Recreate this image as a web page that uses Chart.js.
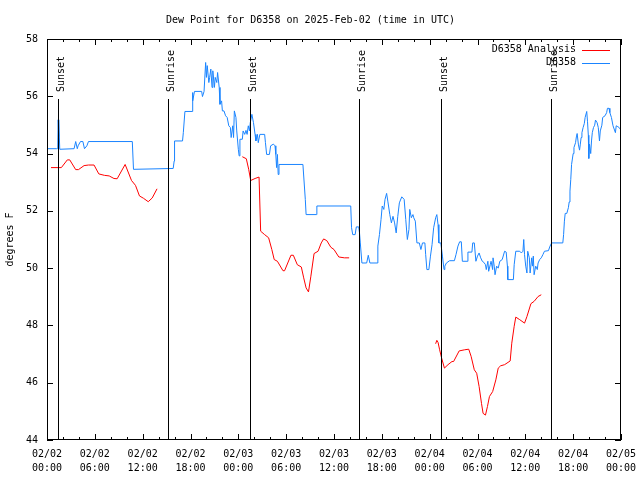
<!DOCTYPE html>
<html>
<head>
<meta charset="utf-8">
<title>Dew Point for D6358</title>
<script src="https://cdn.jsdelivr.net/npm/chart.js@4.4.1/dist/chart.umd.min.js"></script>
<style>
  html, body { margin: 0; padding: 0; background: #fff; }
  canvas { display: block; }
</style>
</head>
<body>
<canvas id="dewChart" width="640" height="480"></canvas>
<script>
// x values are hours since 2025-02-02 00:00 UTC
const tickDates = ["02/02", "02/02", "02/02", "02/02", "02/03", "02/03", "02/03", "02/03", "02/04", "02/04", "02/04", "02/04", "02/05"];
const tickTimes = ["00:00", "06:00", "12:00", "18:00", "00:00", "06:00", "12:00", "18:00", "00:00", "06:00", "12:00", "18:00", "00:00"];

const sunHours = [1.4, 15.2, 25.5, 39.15, 49.45, 63.25];
const sunLabels = ["Sunset", "Sunrise", "Sunset", "Sunrise", "Sunset", "Sunrise"];

// D6358 Analysis (red), null = gap between runs
const analysisHours = [
    0.5, 1.8, 2.55, 2.85, 3.6, 3.95, 4.65, 5.2, 5.9, 6.5, 7.2, 7.8, 8.4, 8.8, 9.8, 10.6, 11.1, 11.6, 12.1, 12.7, 13.2, 13.8,
    19,
    24.5, 25.0, 25.3, 25.55, 26.1, 26.6, 26.8, 27.3, 27.8, 28.2, 28.5, 28.9, 29.6, 29.8, 30.6, 30.9, 31.4, 31.9, 32.2, 32.5, 32.8,
    33.1, 33.5, 34.0, 34.4, 34.7, 35.1, 35.6, 36.0, 36.6, 37.3, 37.9,
    43,
    48.75, 48.9, 49.05, 49.25, 49.5, 49.85, 50.3, 50.8, 51.0, 51.7, 52.4, 52.9, 53.2, 53.6, 53.9, 54.2, 54.5, 54.7, 55.0, 55.25,
    55.5, 55.9, 56.3, 56.6, 56.9, 57.4, 58.1, 58.3, 58.6, 58.8, 59.3, 59.9, 60.2, 60.7, 61.1, 61.6, 62.0
];
const analysisDew = [
    53.51, 53.51, 53.78, 53.78, 53.44, 53.44, 53.58, 53.6, 53.6, 53.29, 53.24, 53.22, 53.13, 53.12, 53.62, 53.06, 52.89, 52.52, 52.44, 52.32, 52.45, 52.77,
    null,
    53.89, 53.82, 53.45, 53.06, 53.13, 53.18, 51.29, 51.17, 51.06, 50.65, 50.30, 50.24, 49.91, 49.91, 50.45, 50.45, 50.12, 50.04, 49.66, 49.31, 49.17,
    49.72, 50.51, 50.59, 50.88, 51.02, 50.96, 50.73, 50.65, 50.39, 50.36, 50.36,
    null,
    47.36, 47.48, 47.41, 47.15, 46.86, 46.51, 46.63, 46.74, 46.74, 47.11, 47.15, 47.17, 46.92, 46.45, 46.33, 45.87, 45.28, 44.93, 44.87, 45.17,
    45.52, 45.69, 46.10, 46.51, 46.59, 46.63, 46.76, 47.38, 47.97, 48.29, 48.2, 48.08, 48.31, 48.76, 48.84, 49.01, 49.07
];

// D6358 observations (blue)
const obsHours = [
    0, 1.2, 1.35, 1.4, 1.45, 1.5, 1.6, 3.4, 3.6, 3.8, 3.9, 4.2, 4.5, 4.7, 5.0, 5.2, 10.7, 10.85, 15.83,
    15.95, 16.0, 17.0, 17.1, 17.3, 18.2, 18.25, 18.3, 18.5, 19.4, 19.5, 19.7, 19.9, 20.0, 20.1, 20.3, 20.4, 20.55, 20.7, 20.8,
    21.0, 21.1, 21.3, 21.4, 21.6, 21.7, 21.9, 22.0, 22.2, 22.4, 22.6, 22.8, 23.0, 23.1, 23.3, 23.4, 23.5, 23.7, 23.8, 24.0,
    24.1, 24.2, 24.5, 24.6, 24.8, 24.96, 25.1, 25.25, 25.4, 25.5, 25.7, 25.9, 26.1, 26.2, 26.4, 26.5, 26.7, 27.3, 27.4, 27.55,
    27.9, 28.05, 28.4, 28.6, 28.7, 28.8, 28.9, 29.0, 29.1, 32.1, 32.4, 32.5, 33.8, 33.85, 38.1, 38.2, 38.35, 38.65, 38.8, 39.1,
    39.2, 39.3, 39.5, 40.1, 40.3, 40.5, 41.4, 41.5, 41.7, 41.9, 42.05, 42.25, 42.4, 42.6, 42.75, 43.0, 43.2, 43.4, 43.6, 43.8,
    44.0, 44.2, 44.5, 44.8, 45.0, 45.2, 45.4, 45.5, 45.7, 45.9, 46.0, 46.2, 46.4, 46.7, 46.9, 47.1, 47.4, 47.5, 47.65, 47.9,
    48.1, 48.3, 48.5, 48.75, 48.9, 49.05, 49.15, 49.4, 49.6, 49.8, 49.9, 50.1, 50.5, 51.1, 51.3, 51.55, 51.76, 51.97, 52.1, 52.7,
    52.8, 53.3, 53.4, 53.6, 53.8, 54.0, 54.2, 54.4, 54.6, 54.8, 55.0, 55.1, 55.3, 55.4, 55.6, 55.7, 55.9, 55.95, 56.1, 56.2,
    56.4, 56.6, 56.8, 57.1, 57.4, 57.6, 57.75, 57.8, 58.5, 58.6, 58.8, 59.3, 59.5, 59.7, 59.8, 59.9, 60.05, 60.2, 60.3, 60.5,
    60.6, 60.8, 60.9, 61.0, 61.1, 61.3, 61.5, 61.6, 61.8, 62.0, 62.2, 62.4, 62.9, 63.1, 63.3, 64.7, 64.8, 64.9, 65.0, 65.2,
    65.4, 65.5, 65.6, 65.7, 65.8, 66.0, 66.1, 66.3, 66.4, 66.5, 66.65, 66.8, 66.9, 67.0, 67.1, 67.25, 67.4, 67.5, 67.7, 67.8,
    67.9, 67.96, 68.05, 68.2, 68.3, 68.4, 68.55, 68.7, 68.8, 69.0, 69.15, 69.3, 69.4, 69.6, 69.7, 70.0, 70.2, 70.3, 70.5, 70.6,
    70.8, 71.0, 71.3, 71.4, 71.6, 71.8, 72.0
];
const obsDew = [
    54.17, 54.17, 54.17, 55.18, 54.6, 55.18, 54.15, 54.17, 54.42, 54.17, 54.27, 54.42, 54.42, 54.17, 54.27, 54.42, 54.42, 53.45, 53.48,
    53.74, 54.44, 54.44, 54.73, 55.47, 55.47, 56.13, 55.84, 56.17, 56.17, 55.99, 56.17, 57.18, 56.66, 57.07, 56.48, 56.66, 56.95, 56.31, 56.89,
    56.31, 56.66, 56.48, 56.83, 56.31, 55.72, 55.84, 55.49, 55.49, 55.32, 55.26, 54.97, 54.91, 54.56, 54.97, 54.56, 55.49, 55.26, 54.79, 54.15,
    53.92, 54.5, 54.5, 54.79, 54.67, 54.81, 54.67, 54.97, 54.79, 55.08, 55.37, 55.08, 54.67, 54.44, 54.67, 54.38, 54.67, 54.67, 54.38, 53.97,
    53.97, 54.27, 54.33, 54.27, 53.97, 53.51, 53.97, 53.27, 53.62, 53.62, 52.4, 51.87, 51.87, 52.17, 52.17, 51.41, 51.17, 51.17, 51.44, 51.44,
    51.23, 50.88, 50.18, 50.18, 50.45, 50.18, 50.18, 50.77, 51.17, 51.7, 52.17, 52.05, 52.4, 52.61, 52.34, 51.87, 51.58, 51.81, 51.58, 51.23,
    51.81, 52.28, 52.49, 52.4, 51.7, 51.0, 51.35, 52.05, 51.76, 51.87, 51.76, 51.64, 50.88, 50.88, 50.65, 50.88, 50.88, 50.47, 49.95, 49.95,
    50.42, 50.82, 51.41, 51.76, 51.87, 51.52, 50.88, 50.88, 50.42, 49.95, 50.07, 50.18, 50.26, 50.26, 50.47, 50.77, 50.92, 50.92, 50.24, 50.24,
    50.56, 50.56, 50.88, 50.88, 50.24, 50.42, 50.53, 50.36, 50.24, 50.2, 50.12, 49.95, 50.24, 49.89, 50.12, 50.24, 49.95, 50.36, 50.07, 49.77,
    50.07, 50.0, 50.24, 50.3, 50.59, 50.56, 50.07, 49.6, 49.6, 50.12, 50.59, 50.59, 50.53, 50.59, 51.0, 50.47, 50.07, 49.83, 50.59, 50.36,
    49.83, 50.36, 50.07, 50.42, 49.77, 50.07, 49.95, 50.18, 50.3, 50.36, 50.47, 50.59, 50.61, 50.77, 50.88, 50.88, 51.17, 51.64, 51.91, 51.91,
    52.11, 52.31, 52.69, 53.1, 53.62, 54.0, 54.21, 54.38, 54.58, 54.7, 54.33, 54.12, 54.33, 54.56, 54.73, 54.91, 55.05, 55.26, 55.47, 55.11,
    54.64, 53.83, 54.33, 54.0, 54.44, 54.73, 54.91, 54.99, 55.17, 55.08, 54.91, 54.44, 54.79, 54.99, 55.26, 55.32, 55.43, 55.58, 55.58, 55.43,
    55.26, 54.97, 54.73, 54.97, 54.94, 54.9, 54.81
];

const FONT = "'DejaVu Sans Mono', 'Liberation Mono', monospace";
Chart.defaults.font.family = FONT;
Chart.defaults.font.size = 10;
Chart.defaults.color = "#000";

function toPoints(xs, ys) {
    return xs.map((h, i) => ({ x: h, y: ys[i] }));
}

/* ========== frame + inward ticks, gnuplot style ========== */
const framePlugin = {
    id: "frame",
    afterDraw(chart) {
        const { ctx, chartArea: a, scales: { x, y } } = chart;
        ctx.save();
        ctx.strokeStyle = "#000";
        ctx.lineWidth = 1;
        ctx.strokeRect(a.left + 0.5, a.top + 0.5, a.width - 1, a.height - 1);
        ctx.beginPath();
        for (let h = x.min; h <= x.max; h += 2) {
            const px = Math.round(x.getPixelForValue(h)) + 0.5;
            const len = h % 6 === 0 ? 6 : 3;
            ctx.moveTo(px, a.bottom); ctx.lineTo(px, a.bottom - len);
            ctx.moveTo(px, a.top); ctx.lineTo(px, a.top + len);
        }
        for (let v = y.min; v <= y.max; v += 2) {
            const py = Math.round(y.getPixelForValue(v)) + 0.5;
            ctx.moveTo(a.left, py); ctx.lineTo(a.left + 6, py);
            ctx.moveTo(a.right, py); ctx.lineTo(a.right - 6, py);
        }
        ctx.stroke();
        ctx.restore();
    }
};

/* ========== sunrise / sunset markers ========== */
const sunPlugin = {
    id: "sunMarks",
    afterDatasetsDraw(chart) {
        const { ctx, chartArea: a, scales: { x } } = chart;
        ctx.save();
        ctx.strokeStyle = "#000";
        ctx.lineWidth = 1;
        ctx.fillStyle = "#000";
        ctx.font = "10px " + FONT;
        sunHours.forEach((h, i) => {
            const px = Math.round(x.getPixelForValue(h)) + 0.5;
            ctx.beginPath();
            ctx.moveTo(px, a.top + 60);
            ctx.lineTo(px, a.bottom);
            ctx.stroke();
            ctx.save();
            ctx.translate(px + 5, a.top + 53);
            ctx.rotate(-Math.PI / 2);
            ctx.textAlign = "left";
            ctx.textBaseline = "alphabetic";
            ctx.fillText(sunLabels[i], 0, 0);
            ctx.restore();
        });
        ctx.restore();
    }
};

/* ========== legend, top right, text then line sample ========== */
const keyPlugin = {
    id: "key",
    afterDraw(chart) {
        const { ctx, chartArea: a } = chart;
        ctx.save();
        ctx.font = "10px " + FONT;
        ctx.textAlign = "right";
        ctx.textBaseline = "middle";
        chart.data.datasets.forEach((ds, i) => {
            const yy = a.top + 10.5 + i * 13;
            ctx.fillStyle = "#000";
            ctx.fillText(ds.label, a.right - 45, yy);
            ctx.strokeStyle = ds.borderColor;
            ctx.lineWidth = 1;
            ctx.beginPath();
            ctx.moveTo(a.right - 39, Math.round(yy) + 0.5);
            ctx.lineTo(a.right - 11, Math.round(yy) + 0.5);
            ctx.stroke();
        });
        ctx.restore();
    }
};

new Chart(document.getElementById("dewChart"), {
    type: "line",
    data: {
        datasets: [
            {
                label: "D6358 Analysis",
                data: toPoints(analysisHours, analysisDew),
                borderColor: "#ff0000",
                borderWidth: 1,
                pointRadius: 0,
                spanGaps: false,
                tension: 0
            },
            {
                label: "D6358",
                data: toPoints(obsHours, obsDew),
                borderColor: "#1a84ff",
                borderWidth: 1,
                pointRadius: 0,
                tension: 0
            }
        ]
    },
    options: {
        responsive: false,
        animation: false,
        devicePixelRatio: 1,
        layout: { padding: { left: 0, right: 19, top: 0, bottom: 0 } },
        plugins: {
            legend: { display: false },
            tooltip: { enabled: false },
            title: {
                display: true,
                text: "Dew Point for D6358 on 2025-Feb-02 (time in UTC)",
                font: { family: FONT, size: 10, weight: "normal", lineHeight: 1.2 },
                color: "#000",
                padding: { top: 14, bottom: 13 }
            }
        },
        scales: {
            x: {
                type: "linear",
                min: 0,
                max: 72,
                grid: { display: false },
                border: { display: false },
                ticks: {
                    stepSize: 6,
                    autoSkip: false,
                    maxRotation: 0,
                    padding: -1,
                    font: { family: FONT, size: 10, lineHeight: 1.4 },
                    color: "#000",
                    callback: (value) => {
                        const i = Math.round(value / 6);
                        return [tickDates[i], tickTimes[i]];
                    }
                },
                afterFit: (s) => { s.height = 40; }
            },
            y: {
                min: 44,
                max: 58,
                grid: { display: false },
                border: { display: false },
                ticks: {
                    stepSize: 2,
                    padding: 1,
                    font: { family: FONT, size: 10 },
                    color: "#000"
                },
                title: {
                    display: true,
                    text: "degrees F",
                    font: { family: FONT, size: 10 },
                    color: "#000",
                    padding: { top: 4, bottom: 4 }
                },
                afterFit: (s) => { s.width = 47; }
            }
        }
    },
    plugins: [framePlugin, sunPlugin, keyPlugin]
});
</script>
</body>
</html>
